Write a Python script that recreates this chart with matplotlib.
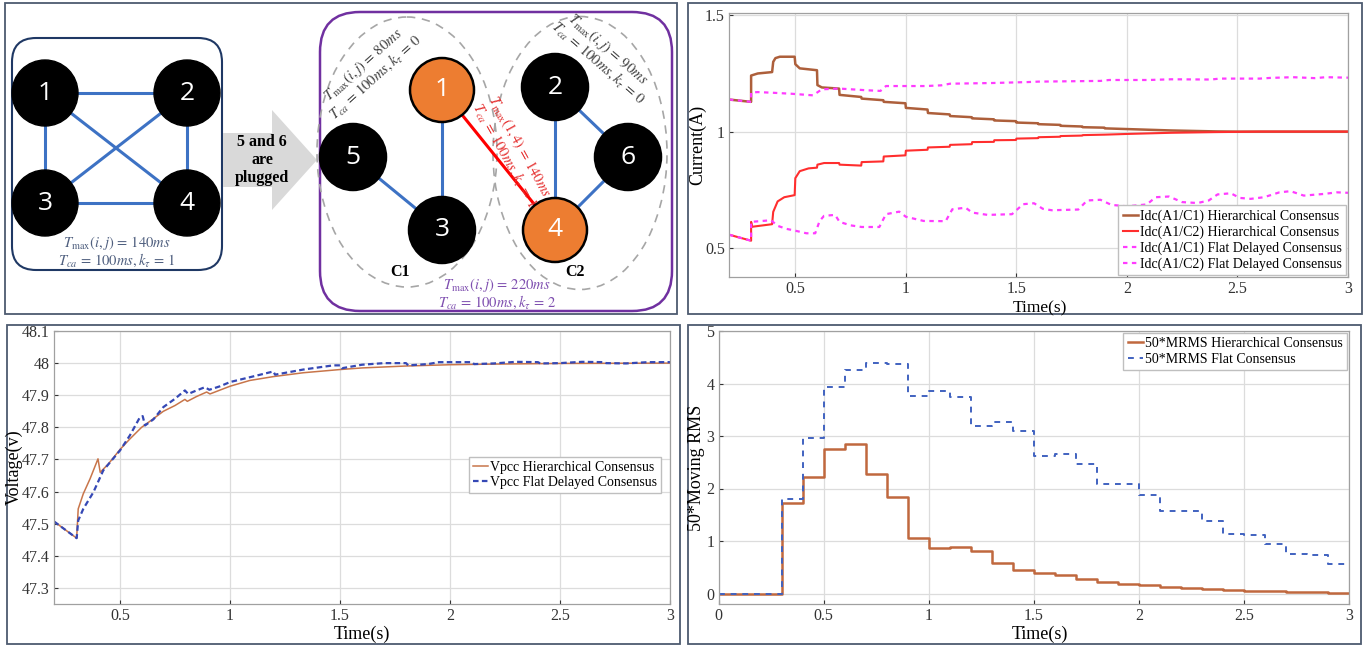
import numpy as np
import matplotlib.pyplot as plt
from matplotlib.patches import Circle, Ellipse, FancyBboxPatch, Polygon, Rectangle
from matplotlib.ticker import FuncFormatter

plt.rcParams['font.family'] = ['Liberation Serif', 'DejaVu Serif']
plt.rcParams['mathtext.fontset'] = 'stix'

# ---------------- data: DC currents (top right) ----------------
t_c1_hier = [0.2, 0.3, 0.3, 0.33, 0.395, 0.40, 0.41, 0.43, 0.497, 0.50, 0.52, 0.598,
             0.60, 0.62, 0.698, 0.70, 0.798, 0.80, 0.898, 0.90, 0.998, 1.0, 1.098,
             1.10, 1.198, 1.20, 1.298, 1.30, 1.398, 1.40, 1.498, 1.50, 1.598, 1.60,
             1.698, 1.70, 1.798, 1.80, 1.898, 1.90, 2.0, 2.1, 2.2, 2.3, 2.4, 2.5, 3.0]
i_c1_hier = [1.138, 1.128, 1.241, 1.250, 1.256, 1.300, 1.316, 1.322, 1.322, 1.290, 1.272, 1.264,
             1.200, 1.190, 1.185, 1.158, 1.149, 1.142, 1.135, 1.128, 1.122, 1.102, 1.095,
             1.080, 1.074, 1.067, 1.062, 1.057, 1.053, 1.048, 1.045, 1.039, 1.036, 1.032,
             1.029, 1.025, 1.022, 1.019, 1.017, 1.014, 1.011, 1.008, 1.005, 1.003, 1.001, 1.0, 1.0]

t_c2_hier = [0.2, 0.3, 0.3, 0.305, 0.395, 0.40, 0.42, 0.45, 0.497, 0.50, 0.52, 0.56, 0.598,
             0.60, 0.63, 0.698, 0.70, 0.798, 0.80, 0.898, 0.90, 0.998, 1.0, 1.098, 1.10,
             1.198, 1.20, 1.298, 1.30, 1.398, 1.40, 1.498, 1.50, 1.598, 1.60, 1.698, 1.70,
             1.798, 1.80, 1.9, 2.0, 2.2, 2.4, 2.6, 3.0]
i_c2_hier = [0.557, 0.531, 0.612, 0.591, 0.602, 0.655, 0.700, 0.718, 0.727, 0.800, 0.830, 0.842, 0.845,
             0.858, 0.865, 0.865, 0.858, 0.854, 0.869, 0.872, 0.893, 0.898, 0.918, 0.922, 0.932,
             0.935, 0.943, 0.946, 0.955, 0.956, 0.963, 0.964, 0.970, 0.972, 0.976, 0.978, 0.981,
             0.983, 0.985, 0.987, 0.990, 0.995, 0.998, 1.0, 1.0]

t_c1_flat = [0.2, 0.3, 0.3, 0.33, 0.40, 0.48, 0.58, 0.62, 0.70, 0.82, 0.885, 0.91, 1.09,
             1.16, 1.20, 1.39, 1.55, 1.60, 1.88, 1.92, 2.10, 2.20, 2.38, 2.42, 2.60,
             2.65, 2.75, 2.85, 2.90, 3.0]
i_c1_flat = [1.138, 1.128, 1.168, 1.170, 1.167, 1.163, 1.156, 1.182, 1.185, 1.178, 1.175, 1.196, 1.196,
             1.199, 1.206, 1.209, 1.213, 1.215, 1.218, 1.222, 1.222, 1.225, 1.224, 1.228, 1.228,
             1.231, 1.234, 1.230, 1.234, 1.232]

t_c2_flat = [0.2, 0.3, 0.3, 0.39, 0.42, 0.46, 0.50, 0.55, 0.59, 0.61, 0.63, 0.68, 0.70,
             0.75, 0.80, 0.88, 0.91, 0.97, 1.00, 1.08, 1.18, 1.21, 1.27, 1.30, 1.37,
             1.48, 1.53, 1.58, 1.62, 1.66, 1.78, 1.82, 1.88, 1.93, 2.0, 2.09, 2.13,
             2.19, 2.25, 2.32, 2.37, 2.41, 2.47, 2.51, 2.56, 2.62, 2.69, 2.74, 2.80,
             2.89, 2.95, 3.0]
i_c2_flat = [0.557, 0.531, 0.612, 0.619, 0.595, 0.582, 0.574, 0.563, 0.563, 0.616, 0.638, 0.642, 0.612,
             0.597, 0.590, 0.590, 0.645, 0.656, 0.634, 0.616, 0.615, 0.666, 0.673, 0.652, 0.642,
             0.645, 0.688, 0.692, 0.668, 0.662, 0.665, 0.704, 0.707, 0.685, 0.679, 0.687, 0.718,
             0.721, 0.697, 0.693, 0.704, 0.730, 0.735, 0.715, 0.711, 0.718, 0.739, 0.744, 0.725,
             0.732, 0.739, 0.737]

# ---------------- data: PCC voltage (bottom left) ----------------
t_v_hier = [0.2, 0.303, 0.31, 0.333, 0.364, 0.40, 0.41, 0.447, 0.5, 0.545, 0.598, 0.652,
            0.697, 0.75, 0.795, 0.806, 0.848, 0.894, 0.909, 1.0, 1.09, 1.197, 1.333, 1.5,
            1.6, 1.7, 1.8, 1.9, 2.0, 2.2, 2.5, 3.0]
v_hier = [47.507, 47.455, 47.546, 47.593, 47.640, 47.702, 47.660, 47.686, 47.731, 47.764, 47.800, 47.827,
          47.850, 47.868, 47.887, 47.881, 47.896, 47.910, 47.904, 47.928, 47.946, 47.958, 47.970, 47.980,
          47.985, 47.988, 47.991, 47.993, 47.995, 47.997, 47.999, 48.0]

t_v_flat = [0.2, 0.303, 0.31, 0.333, 0.379, 0.424, 0.5, 0.545, 0.591, 0.603, 0.614, 0.652,
            0.697, 0.75, 0.795, 0.81, 0.848, 0.886, 0.906, 0.955, 1.0, 1.09, 1.197, 1.205,
            1.333, 1.47, 1.5, 1.508, 1.6, 1.7, 1.8, 1.81, 1.9, 1.95, 2.1, 2.11, 2.2, 2.3,
            2.4, 2.41, 2.5, 2.6, 2.7, 2.71, 2.8, 2.9, 3.0]
v_flat = [47.507, 47.455, 47.510, 47.546, 47.598, 47.666, 47.728, 47.775, 47.832, 47.835, 47.806, 47.825,
          47.863, 47.889, 47.915, 47.904, 47.915, 47.925, 47.917, 47.928, 47.941, 47.956, 47.974, 47.964,
          47.980, 47.993, 47.993, 47.984, 47.995, 48.0, 48.0, 47.993, 47.997, 48.003, 48.003, 47.997,
          47.999, 48.004, 48.003, 47.999, 48.0, 48.004, 48.003, 48.0, 47.999, 48.003, 48.003]

# ---------------- data: moving RMS (bottom right), 0.1 s steps ----------------
t_rms = [0.0, 0.3, 0.4, 0.5, 0.6, 0.7, 0.8, 0.9, 1.0, 1.1, 1.2, 1.3, 1.4, 1.5, 1.6, 1.7,
         1.8, 1.9, 2.0, 2.1, 2.2, 2.3, 2.4, 2.5, 2.6, 2.7, 2.8, 2.9, 3.0]
rms_hier = [0.0, 1.72, 2.22, 2.75, 2.85, 2.27, 1.83, 1.06, 0.86, 0.88, 0.81, 0.58, 0.44, 0.39,
            0.35, 0.28, 0.22, 0.18, 0.16, 0.13, 0.10, 0.08, 0.06, 0.05, 0.04, 0.03, 0.02, 0.01, 0.01]
rms_flat = [0.0, 1.80, 2.96, 3.93, 4.25, 4.40, 4.37, 3.77, 3.86, 3.75, 3.20, 3.26, 3.09, 2.62,
            2.66, 2.46, 2.08, 2.09, 1.88, 1.58, 1.58, 1.38, 1.14, 1.12, 0.95, 0.75, 0.73, 0.57, 0.57]

# ---------------- diagram layout (pixel coords) ----------------
left_nodes = {'1': (45, 93), '2': (187, 93), '3': (45, 203), '4': (187, 203)}
left_edges = [('1', '2'), ('1', '3'), ('2', '4'), ('3', '4'), ('1', '4'), ('2', '3')]
right_nodes = {'1': (442, 90), '5': (353, 157), '3': (442, 230),
               '2': (555, 87), '6': (628, 157), '4': (555, 230)}
right_edges = [('5', '3'), ('1', '3'), ('2', '4'), ('2', '6'), ('6', '4')]
leader_nodes = ['1', '4']
node_r = 33

W, H = 1367, 646
fig = plt.figure(figsize=(W / 100, H / 100), dpi=100)
fig.patch.set_facecolor('white')

# overlay in pixel units for frames and the network diagram
ov = fig.add_axes([0, 0, 1, 1])
ov.set_xlim(0, W)
ov.set_ylim(H, 0)
ov.axis('off')

frame_col = '#4d5b70'
for (x0, y0, x1, y1) in [(5, 3, 677, 314), (688, 3, 1362, 314), (7, 325, 680, 644), (688, 325, 1361, 644)]:
    ov.add_patch(Rectangle((x0, y0), x1 - x0, y1 - y0, fill=False, ec=frame_col, lw=1.3))

blue_edge = '#3d72c4'
# left network
ov.add_patch(FancyBboxPatch((12, 38), 210, 232, boxstyle='round,pad=0,rounding_size=24',
                            fc='white', ec='#1f3864', lw=1.5))
for a, b in left_edges:
    (xa, ya), (xb, yb) = left_nodes[a], left_nodes[b]
    ov.plot([xa, xb], [ya, yb], color=blue_edge, lw=2.2, zorder=2)
for k, (x, y) in left_nodes.items():
    ov.add_patch(Circle((x, y), node_r, fc='black', ec='black', zorder=3))
    ov.text(x, y, k, color='white', fontsize=19, family='Open Sans', ha='center', va='center', zorder=4)
ov.text(117, 243, r'$T_{\max}(i,j)\,=\,140ms$', color='#4f5f7f', fontsize=10.5, ha='center', va='center')
ov.text(117, 260, r'$T_{ca}\,=\,100ms, k_\tau\,=\,1$', color='#4f5f7f', fontsize=10.5, ha='center', va='center')

# arrow
ov.add_patch(Polygon([(223, 133), (272, 133), (272, 110), (317, 160), (272, 210), (272, 187), (223, 187)],
                     closed=True, fc='#d9d9d9', ec='none', zorder=1))
ov.text(262, 160, '5 and 6\nare\nplugged', fontsize=11.5, fontweight='bold', ha='center', va='center',
        linespacing=1.2, zorder=2)

# right network
ov.add_patch(FancyBboxPatch((320, 12), 352, 299, boxstyle='round,pad=0,rounding_size=40',
                            fc='none', ec='#7030a0', lw=1.8, zorder=1))
ov.add_patch(Ellipse((407, 152), 180, 270, fill=False, ec='#a6a6a6', lw=1.2, ls=(0, (5, 4)), zorder=1))
ov.add_patch(Ellipse((580, 153), 174, 273, fill=False, ec='#a6a6a6', lw=1.2, ls=(0, (5, 4)), zorder=1))
for a, b in right_edges:
    (xa, ya), (xb, yb) = right_nodes[a], right_nodes[b]
    ov.plot([xa, xb], [ya, yb], color=blue_edge, lw=2.2, zorder=2)
(xa, ya), (xb, yb) = right_nodes['1'], right_nodes['4']
ov.plot([xa, xb], [ya, yb], color='#ff0000', lw=2.2, zorder=2)
for k, (x, y) in right_nodes.items():
    fc = '#ed7d31' if k in leader_nodes else 'black'
    ov.add_patch(Circle((x, y), node_r if k not in leader_nodes else node_r - 1, fc=fc, ec='black', lw=1.8, zorder=3))
    ov.text(x, y, k, color='white', fontsize=19, family='Open Sans', ha='center', va='center', zorder=4)

ov.text(400, 272, 'C1', fontsize=11.5, fontweight='bold', ha='center', va='center')
ov.text(575, 272, 'C2', fontsize=11.5, fontweight='bold', ha='center', va='center')
ov.text(497, 285, r'$T_{\max}(i,j)\,=\,220ms$', color='#7f4fb0', fontsize=10.5, ha='center', va='center')
ov.text(497, 302, r'$T_{ca}\,=\,100ms, k_\tau\,=\,2$', color='#7f4fb0', fontsize=10.5, ha='center', va='center')

rt = dict(ha='center', va='center', rotation_mode='anchor', fontsize=10.5)
ov.text(363, 65, r'$T_{\max}(i,j)\,=\,80ms$', color='#404040', rotation=42, **rt)
ov.text(375, 77, r'$T_{ca}\,=\,100ms, k_\tau\,=\,0$', color='#404040', rotation=42, **rt)
ov.text(608, 49, r'$T_{\max}(i,j)\,=\,90ms$', color='#404040', rotation=-41, **rt)
ov.text(598, 62, r'$T_{ca}\,=\,100ms, k_\tau\,=\,0$', color='#404040', rotation=-41, **rt)
ov.text(519, 147, r'$T_{\max}(1,4)\,=\,140ms$', color='#e53030', rotation=-61, **rt)
ov.text(505, 155, r'$T_{ca}\,=\,100ms, k_\tau\,=\,1$', color='#e53030', rotation=-61, **rt)


def px_axes(x0, y0, x1, y1):
    return fig.add_axes([x0 / W, 1 - y1 / H, (x1 - x0) / W, (y1 - y0) / H])


def matlab_style(ax):
    ax.grid(True, color='#dcdcdc', lw=0.9)
    ax.set_axisbelow(True)
    ax.tick_params(direction='in', length=3, labelsize=11.5, colors='#333333', pad=3)
    for s in ax.spines.values():
        s.set_color('#a0a0a0')
        s.set_linewidth(0.9)
    fmt = FuncFormatter(lambda v, p: f'{v:g}')
    ax.xaxis.set_major_formatter(fmt)
    ax.yaxis.set_major_formatter(fmt)


leg_kw = dict(fontsize=10, handlelength=1.1, handletextpad=0.15, labelspacing=0.18,
              borderpad=0.3, fancybox=False, edgecolor='#bfbfbf', framealpha=1)

# ---- top right: currents
ax1 = px_axes(729, 13, 1348, 277)
matlab_style(ax1)
ax1.plot(t_c1_hier, i_c1_hier, color='#ad5f3b', lw=1.8, label='Idc(A1/C1) Hierarchical Consensus')
ax1.plot(t_c2_hier, i_c2_hier, color='#ff2e2e', lw=1.5, label='Idc(A1/C2) Hierarchical Consensus')
ax1.plot(t_c1_flat, i_c1_flat, color='#ff3cff', lw=1.6, ls=(0, (2, 2)), label='Idc(A1/C1) Flat Delayed Consensus')
ax1.plot(t_c2_flat, i_c2_flat, color='#ff3cff', lw=1.6, ls=(0, (2, 2)), label='Idc(A1/C2) Flat Delayed Consensus')
ax1.set_xlim(0.2, 3)
ax1.set_ylim(0.375, 1.51)
ax1.set_xticks([0.5, 1, 1.5, 2, 2.5, 3])
ax1.set_yticks([0.5, 1, 1.5])
ax1.set_xlabel('Time(s)', fontsize=12.5)
ax1.set_ylabel('Current(A)', fontsize=13)
ax1.xaxis.set_label_coords(0.502, -0.088)
ax1.yaxis.set_label_coords(-0.036, 0.5)
ax1.legend(loc='lower right', borderaxespad=0.15, **leg_kw)

# ---- bottom left: voltage
ax2 = px_axes(54, 331, 670, 604)
matlab_style(ax2)
ax2.plot(t_v_hier, v_hier, color='#c8754a', lw=1.1, label='Vpcc Hierarchical Consensus')
ax2.plot(t_v_flat, v_flat, color='#3548b5', lw=1.6, ls=(0, (2.5, 1.5)), label='Vpcc Flat Delayed Consensus')
ax2.set_xlim(0.2, 3)
ax2.set_ylim(47.25, 48.1)
ax2.set_xticks([0.5, 1, 1.5, 2, 2.5, 3])
ax2.set_yticks(np.round(np.arange(47.3, 48.15, 0.1), 1))
ax2.set_xlabel('Time(s)', fontsize=13)
ax2.set_ylabel('Voltage(v)', fontsize=13)
ax2.xaxis.set_label_coords(0.5, -0.08)
ax2.yaxis.set_label_coords(-0.05, 0.5)
ax2.legend(loc='center right', bbox_to_anchor=(0.997, 0.4725), **leg_kw)

# ---- bottom right: moving RMS
ax3 = px_axes(718.5, 331, 1349, 604)
matlab_style(ax3)
ax3.plot(t_rms, rms_hier, drawstyle='steps-post', color='#c0683e', lw=1.8, label='50*MRMS Hierarchical Consensus')
ax3.plot(t_rms, rms_flat, drawstyle='steps-post', color='#4062c0', lw=1.4, ls=(0, (3, 3)), label='50*MRMS Flat Consensus')
ax3.set_xlim(0, 3)
ax3.set_ylim(-0.2, 5)
ax3.set_xticks([0, 0.5, 1, 1.5, 2, 2.5, 3])
ax3.set_yticks([0, 1, 2, 3, 4, 5])
ax3.set_xlabel('Time(s)', fontsize=13)
ax3.set_ylabel('50*Moving RMS', fontsize=13)
ax3.xaxis.set_label_coords(0.51, -0.08)
ax3.yaxis.set_label_coords(-0.022, 0.5)
ax3.legend(loc='upper right', borderaxespad=0.15, **leg_kw)

fig.savefig('out.png', dpi=100)
